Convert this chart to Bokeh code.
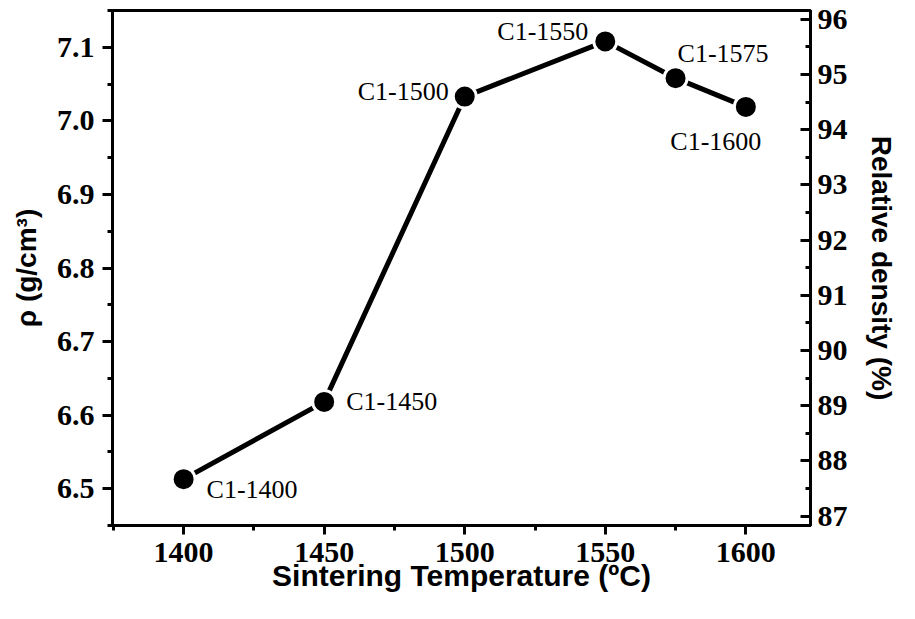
from bokeh.plotting import figure
from bokeh.models import Range1d, LinearAxis, FixedTicker, NumeralTickFormatter, ColumnDataSource
from bokeh.core.properties import value
from bokeh.embed import file_html
from bokeh.resources import INLINE

# ---- data ----
temperature = [1400, 1450, 1500, 1550, 1575, 1600]
density = [6.513, 6.618, 7.033, 7.108, 7.058, 7.019]
sample = ["C1-1400", "C1-1450", "C1-1500", "C1-1550", "C1-1575", "C1-1600"]
x_ticks = [1400, 1450, 1500, 1550, 1600]
left_ticks = [6.5, 6.6, 6.7, 6.8, 6.9, 7.0, 7.1]
right_ticks = [87, 88, 89, 90, 91, 92, 93, 94, 95, 96]

# ---- label styles (pixel offsets) ----
label_align = ["left", "left", "right", "right", "left", "center"]
label_dx = [23, 22, -16, -17, 2, -30]
label_dy = [10, 0, -5, -10, -25, 35]

SERIF = "Liberation Serif"
SANS = "Liberation Sans"

p = figure(width=899, height=603,
           x_range=Range1d(1374.7, 1623), y_range=Range1d(6.45, 7.15),
           output_backend="svg", toolbar_location=None,
           min_border_left=112, min_border_right=87,
           min_border_top=10, min_border_bottom=78)
p.background_fill_color = "white"
p.border_fill_color = "white"
p.outline_line_color = "black"
p.outline_line_width = 3
p.xgrid.visible = False
p.ygrid.visible = False


def style_axis(ax, tick_out=True):
    ax.axis_line_width = 3
    ax.axis_line_color = "black"
    ax.major_tick_line_width = 3
    ax.minor_tick_line_width = 3
    if tick_out:
        ax.major_tick_out = 10
        ax.major_tick_in = 0
        ax.minor_tick_out = 5
        ax.minor_tick_in = 0
    else:
        ax.major_tick_out = 0
        ax.major_tick_in = 10
        ax.minor_tick_out = 0
        ax.minor_tick_in = 5
    ax.major_label_text_font = SERIF
    ax.major_label_text_font_style = "bold"
    ax.major_label_text_font_size = "30px"
    ax.major_label_text_color = "black"
    ax.axis_label_text_font = SANS
    ax.axis_label_text_font_style = "bold"
    ax.axis_label_text_color = "black"


xax = p.xaxis[0]
xax.ticker = FixedTicker(ticks=x_ticks,
                         minor_ticks=[t - 25 for t in x_ticks] + [x_ticks[-1] + 25])
style_axis(xax)
xax.major_tick_out = 9
xax.major_label_standoff = 8
xax.axis_label = "Sintering Temperature (ºC)"
xax.axis_label_text_font_size = "30px"
xax.axis_label_standoff = -6

yax = p.yaxis[0]
yax.ticker = FixedTicker(ticks=left_ticks,
                         minor_ticks=[t - 0.05 for t in left_ticks] + [left_ticks[-1] + 0.05])
yax.formatter = NumeralTickFormatter(format="0.0")
style_axis(yax)
yax.major_label_standoff = 8
yax.axis_label = "ρ (g/cm³)"
yax.axis_label_text_font_size = "28px"
yax.axis_label_standoff = 12

p.extra_y_ranges = {"rd": Range1d(86.83, 96.16)}
rax = LinearAxis(y_range_name="rd",
                 ticker=FixedTicker(ticks=right_ticks,
                                    minor_ticks=[t - 0.5 for t in right_ticks] + [right_ticks[-1] + 0.5]))
style_axis(rax, tick_out=False)
rax.major_label_standoff = 7
rax.axis_label = "Relative density (%)"
rax.axis_label_text_font_size = "28px"
rax.axis_label_standoff = 15
p.add_layout(rax, "right")

src = ColumnDataSource(dict(t=temperature, d=density, s=sample,
                            align=label_align, dx=label_dx, dy=label_dy))

p.line("t", "d", source=src, line_width=5, line_color="black")
p.scatter("t", "d", source=src, size=23, fill_color="black",
          line_color="white", line_width=3)
p.text(x="t", y="d", text="s", source=src, x_offset="dx", y_offset="dy",
       text_align="align", text_baseline="middle",
       text_font=value(SERIF), text_font_size="26px", text_color="black")

open("out.html", "w").write(file_html(p, INLINE))
